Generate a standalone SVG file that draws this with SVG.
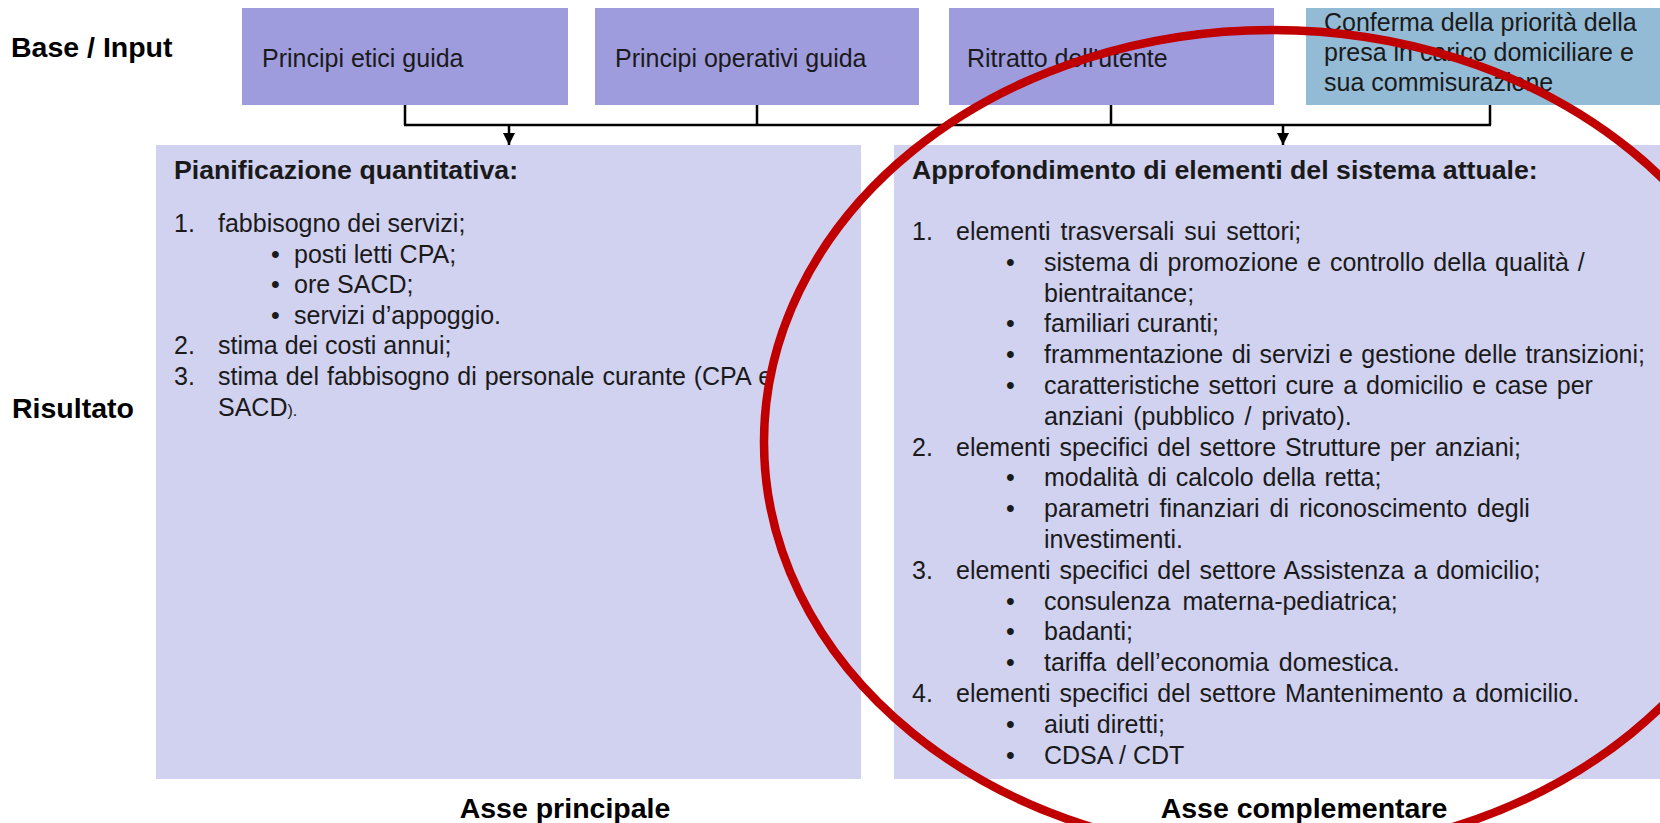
<svg xmlns="http://www.w3.org/2000/svg" width="1660" height="823" viewBox="0 0 1660 823">
<defs>
<style>
text{font-family:"Liberation Sans",Arial,sans-serif;fill:#1a1a1a}
.lbl{font-size:28.5px;font-weight:bold;fill:#000}
.hd{font-size:26.7px;font-weight:bold}
.t{font-size:25px}
.top{fill:#9F9CDE}
.topb{fill:#93BBD6}
.res{fill:#D1D1F0}
.con{stroke:#000;stroke-width:2.5;fill:none}
</style>
<marker id="arr" viewBox="0 0 10 10" refX="10" refY="5" markerWidth="12" markerHeight="13" markerUnits="userSpaceOnUse" orient="auto">
<path d="M0,0 L10,5 L0,10 z" fill="#000"/>
</marker>
</defs>
<rect width="1660" height="823" fill="#fff"/>

<g id="labels">
<text class="lbl" x="11" y="57">Base / Input</text>
<text class="lbl" x="12" y="418">Risultato</text>
<text class="lbl" x="565" y="818" text-anchor="middle">Asse principale</text>
<text class="lbl" x="1304" y="818" text-anchor="middle">Asse complementare</text>
</g>

<g id="input1"><rect class="top" x="242" y="8" width="326" height="97"/><text class="t" x="262" y="67">Principi etici guida</text></g>
<g id="input2"><rect class="top" x="595" y="8" width="324" height="97"/><text class="t" x="615" y="67">Principi operativi guida</text></g>
<g id="input3"><rect class="top" x="949" y="8" width="325" height="97"/><text class="t" x="967" y="67">Ritratto dell'utente</text></g>
<g id="input4"><rect class="topb" x="1306" y="8" width="354" height="97"/>
<text class="t" x="1324" y="31">Conferma della  priorità della</text>
<text class="t" x="1324" y="61">presa in carico domiciliare e</text>
<text class="t" x="1324" y="91">sua commisurazione</text></g>

<g id="connectors">
<path class="con" d="M405,105 V125 M757,105 V125 M1111,105 V125 M1490,105 V125 M404,125 H1491"/>
<path class="con" d="M509,125 V145" marker-end="url(#arr)"/>
<path class="con" d="M1283,125 V145" marker-end="url(#arr)"/>
</g>

<g id="asse-principale">
<rect class="res" x="156" y="145" width="705" height="634"/>
<text class="hd" x="174" y="179">Pianificazione quantitativa:</text>
<text class="t" x="174" y="232">1.</text><text class="t" x="218" y="232">fabbisogno dei servizi;</text>
<text class="t" x="271" y="262.6">•</text><text class="t" x="294" y="262.6">posti letti CPA;</text>
<text class="t" x="271" y="293.2">•</text><text class="t" x="294" y="293.2">ore SACD;</text>
<text class="t" x="271" y="323.8">•</text><text class="t" x="294" y="323.8">servizi d’appoggio.</text>
<text class="t" x="174" y="354.4">2.</text><text class="t" x="218" y="354.4">stima dei costi annui;</text>
<text class="t" x="174" y="385">3.</text><text class="t" x="218" y="385" word-spacing="1">stima del fabbisogno di personale curante (CPA e</text>
<text class="t" x="218" y="415.6">SACD<tspan font-size="16">).</tspan></text>
</g>

<g id="asse-complementare">
<rect class="res" x="894" y="145" width="766" height="634"/>
<text class="hd" x="912" y="179">Approfondimento di elementi del sistema attuale:</text>
<text class="t" x="912" y="240">1.</text><text class="t" x="956" y="240" word-spacing="3">elementi trasversali sui settori;</text>
<text class="t" x="1006" y="270.8">•</text><text class="t" x="1044" y="270.8" word-spacing="2">sistema di promozione e controllo della qualità /</text>
<text class="t" x="1044" y="301.6">bientraitance;</text>
<text class="t" x="1006" y="332.4">•</text><text class="t" x="1044" y="332.4">familiari curanti;</text>
<text class="t" x="1006" y="363.2">•</text><text class="t" x="1044" y="363.2" word-spacing="1.5">frammentazione di servizi e gestione delle transizioni;</text>
<text class="t" x="1006" y="394">•</text><text class="t" x="1044" y="394" word-spacing="2">caratteristiche settori cure a domicilio e case per</text>
<text class="t" x="1044" y="424.8" word-spacing="3">anziani (pubblico / privato).</text>
<text class="t" x="912" y="455.6">2.</text><text class="t" x="956" y="455.6" word-spacing="2">elementi specifici del settore Strutture per anziani;</text>
<text class="t" x="1006" y="486.4">•</text><text class="t" x="1044" y="486.4" word-spacing="2">modalità di calcolo della retta;</text>
<text class="t" x="1006" y="517.2">•</text><text class="t" x="1044" y="517.2" word-spacing="3">parametri finanziari di riconoscimento degli</text>
<text class="t" x="1044" y="548">investimenti.</text>
<text class="t" x="912" y="578.8">3.</text><text class="t" x="956" y="578.8" word-spacing="2">elementi specifici del settore Assistenza a domicilio;</text>
<text class="t" x="1006" y="609.6">•</text><text class="t" x="1044" y="609.6" word-spacing="5">consulenza materna-pediatrica;</text>
<text class="t" x="1006" y="640.4">•</text><text class="t" x="1044" y="640.4">badanti;</text>
<text class="t" x="1006" y="671.2">•</text><text class="t" x="1044" y="671.2" word-spacing="3">tariffa dell’economia domestica.</text>
<text class="t" x="912" y="702">4.</text><text class="t" x="956" y="702" word-spacing="2">elementi specifici del settore Mantenimento a domicilio.</text>
<text class="t" x="1006" y="732.8">•</text><text class="t" x="1044" y="732.8">aiuti diretti;</text>
<text class="t" x="1006" y="763.6">•</text><text class="t" x="1044" y="763.6">CDSA / CDT</text>
</g>

<g id="highlight">
<ellipse cx="1272" cy="442" rx="508" ry="412" fill="none" stroke="#C00000" stroke-width="8.5"/>
</g>
</svg>
